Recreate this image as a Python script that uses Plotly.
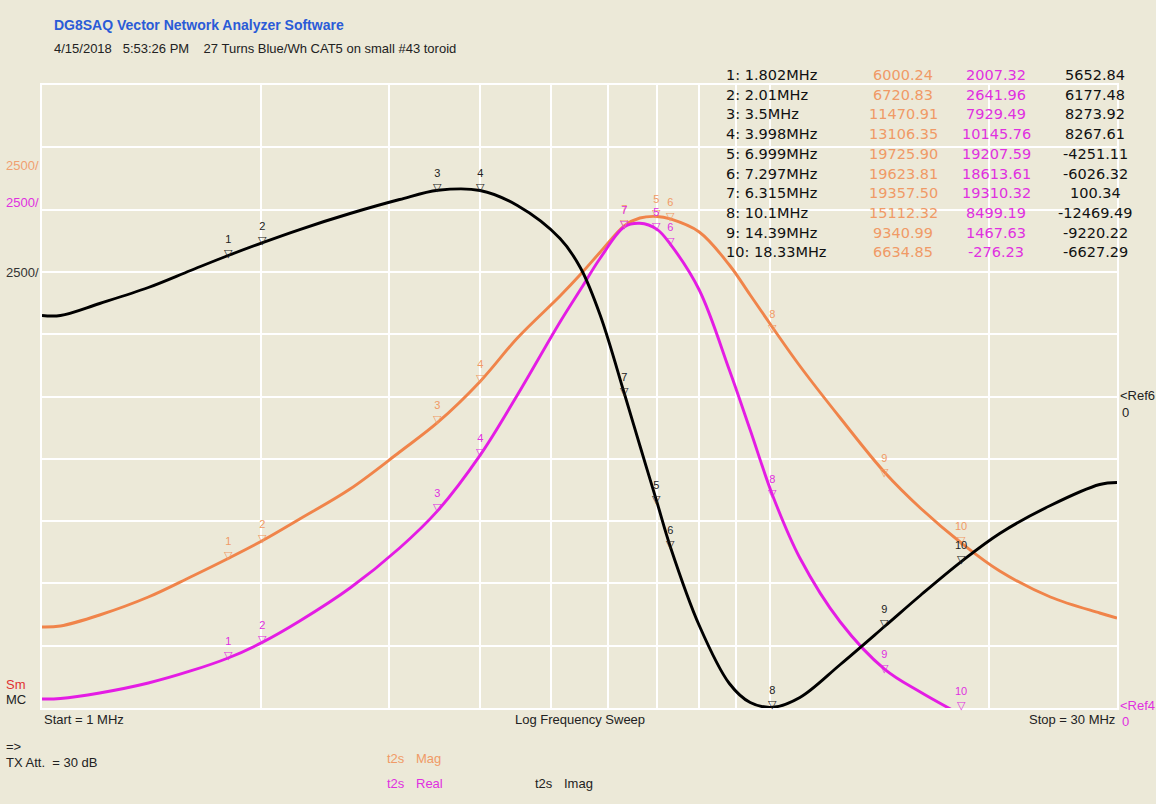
import math
import plotly.graph_objects as go

# ---------------- data ----------------
freq_mhz = [1.0, 1.06, 1.2, 1.4, 1.6, 1.802, 2.01, 2.26, 2.65, 3.1, 3.5, 4.0, 4.5,
            5.15, 5.5, 5.85, 6.315, 6.63, 7.0, 7.3, 8.0, 8.8, 9.4, 10.1, 11.0,
            12.5, 14.39, 16.1, 18.33, 20.7, 24.3, 28.4, 30.0]
mag = [3250, 3290, 3732, 4454, 5257, 6000, 6720, 7584, 8788, 10273, 11470, 13106,
       14847, 16533, 17416, 18298, 19357, 19663, 19725, 19623, 19101, 17777, 16573,
       15249, 13724, 11637, 9450, 8026, 6621, 5498, 4454, 3812, 3612]
real = [361, 381, 602, 1003, 1485, 2007, 2642, 3491, 4815, 6420, 7929, 10146, 12560,
        15490, 16814, 18058, 19310, 19450, 19208, 18614, 16774, 13563, 11156, 8499,
        6019, 3451, 1550, 642, -276, -1083, -2087, -2889, -3090]
imag = [3250, 3250, 3732, 4374, 5056, 5658, 6177, 6701, 7343, 7905, 8274, 8268, 7664,
        6340, 5136, 3250, 100, -1966, -4251, -6026, -9189, -11517, -12279, -12469,
        -12079, -10754, -9220, -7985, -6627, -5498, -4374, -3531, -3451]

mk_num = [1, 2, 3, 4, 5, 6, 7, 8, 9, 10]
mk_label = ["1.802MHz", "2.01MHz", "3.5MHz", "3.998MHz", "6.999MHz", "7.297MHz",
            "6.315MHz", "10.1MHz", "14.39MHz", "18.33MHz"]
mk_freq = [1.802, 2.01, 3.5, 3.998, 6.999, 7.297, 6.315, 10.1, 14.39, 18.33]
mk_mag = [6000.24, 6720.83, 11470.91, 13106.35, 19725.90, 19623.81, 19357.50,
          15112.32, 9340.99, 6634.85]
mk_real = [2007.32, 2641.96, 7929.49, 10145.76, 19207.59, 18613.61, 19310.32,
           8499.19, 1467.63, -276.23]
mk_imag = [5652.84, 6177.48, 8273.92, 8267.61, -4251.11, -6026.32, 100.34,
           -12469.49, -9220.22, -6627.29]

C_MAG = "#F0844A"
C_REAL = "#E41CE4"
C_IMAG = "#000000"
C_MAG_TXT = "#F09A66"
C_REAL_TXT = "#E030E0"
BG = "#ECE9D8"
FONT = "Liberation Sans"

W, H = 1156, 804
L, R, T, B = 42, 1117, 85, 708


def px(x):
    return (x - L) / (R - L)


def py(y):
    return (B - y) / (B - T)


fig = go.Figure()
fig.add_trace(go.Scatter(x=freq_mhz, y=mag, mode="lines", line=dict(color=C_MAG, width=2.9, shape="spline"),
                         hoverinfo="skip", showlegend=False))
fig.add_trace(go.Scatter(x=freq_mhz, y=real, mode="lines", line=dict(color=C_REAL, width=2.9, shape="spline"),
                         hoverinfo="skip", showlegend=False))
fig.add_trace(go.Scatter(x=freq_mhz, y=imag, mode="lines", line=dict(color=C_IMAG, width=2.9, shape="spline"),
                         yaxis="y2", hoverinfo="skip", showlegend=False))

ann = []


def marker_ann(f, v, n, color, yref):
    ann.append(dict(x=math.log10(f), y=v, xref="x", yref=yref,
                    text=f"<span style='font-family:Liberation Sans'>{n}</span><br>▽",
                    showarrow=False, yanchor="bottom", yshift=-5, borderpad=0,
                    font=dict(family="DejaVu Sans", size=11, color=color)))


for n, f, m, r, i in zip(mk_num, mk_freq, mk_mag, mk_real, mk_imag):
    marker_ann(f, m, n, C_MAG_TXT, "y")
    marker_ann(f, max(r, 0), n, C_REAL_TXT, "y")
    marker_ann(f, i, n, "#222222", "y2")

# marker table
TFONT = "DejaVu Sans"
row_y0, row_dy = 75, 19.7
for k, (n, lab, m, r, i) in enumerate(zip(mk_num, mk_label, mk_mag, mk_real, mk_imag)):
    yy = py(row_y0 + k * row_dy)
    ann.append(dict(x=px(724), y=yy, xref="paper", yref="paper", text=f"{n}: {lab}",
                    showarrow=False, xanchor="left", yanchor="middle",
                    font=dict(family=TFONT, size=14.5, color="#111111")))
    ann.append(dict(x=px(903), y=yy, xref="paper", yref="paper", text=f"{m:.2f}",
                    showarrow=False, xanchor="center", yanchor="middle",
                    font=dict(family=TFONT, size=14.5, color=C_MAG_TXT)))
    ann.append(dict(x=px(996), y=yy, xref="paper", yref="paper", text=f"{r:.2f}",
                    showarrow=False, xanchor="center", yanchor="middle",
                    font=dict(family=TFONT, size=14.5, color=C_REAL_TXT)))
    ann.append(dict(x=px(1095), y=yy, xref="paper", yref="paper", text=f"{i:.2f}",
                    showarrow=False, xanchor="center", yanchor="middle",
                    font=dict(family=TFONT, size=14.5, color="#111111")))


def label(x, y, text, color="#222222", size=13, xanchor="left", bold=False):
    ann.append(dict(x=px(x), y=py(y), xref="paper", yref="paper",
                    text=f"<b>{text}</b>" if bold else text, showarrow=False,
                    xanchor=xanchor, yanchor="middle",
                    font=dict(family=FONT, size=size, color=color)))


label(52, 25, "DG8SAQ Vector Network Analyzer Software", color="#2A5BD7", size=14, bold=True)
label(52, 48, "4/15/2018   5:53:26 PM    27 Turns Blue/Wh CAT5 on small #43 toroid", size=13)
label(4, 165, "2500/", color="#F0A070")
label(4, 202, "2500/", color="#E030E0")
label(4, 272, "2500/", color="#333333")
label(4, 684, "Sm", color="#E03030")
label(4, 699, "MC")
label(1118, 396, "&lt;Ref6")
label(1120, 412, "0")
label(1118, 705, "&lt;Ref4", color=C_REAL_TXT)
label(1120, 721, "0", color=C_REAL_TXT)
label(42, 719, "Start = 1 MHz")
label(580, 719, "Log Frequency Sweep", xanchor="center")
label(1117, 719, "Stop = 30 MHz", xanchor="right")
label(4, 746, "=&gt;")
label(4, 762, "TX Att.  = 30 dB")
label(385, 758, "t2s", color=C_MAG_TXT)
label(414, 758, "Mag", color=C_MAG_TXT)
label(385, 783, "t2s", color=C_REAL_TXT)
label(414, 783, "Real", color=C_REAL_TXT)
label(533, 783, "t2s")
label(562, 783, "Imag")

grid_vals = [2, 3, 4, 5, 6, 7, 8, 9, 10, 20]

fig.update_layout(
    width=W, height=H,
    margin=dict(l=L, r=W - R, t=T, b=H - B, pad=0),
    paper_bgcolor=BG, plot_bgcolor=BG,
    showlegend=False,
    annotations=ann,
    xaxis=dict(type="log", range=[0, math.log10(30)], tickvals=grid_vals,
               showticklabels=False, ticks="", showgrid=True, gridcolor="#FFFFFF", gridwidth=1.5,
               zeroline=False, showline=True, linecolor="#FFFFFF", linewidth=1.5, mirror=True,
               fixedrange=True),
    yaxis=dict(range=[0, 25000], dtick=2500, showticklabels=False, ticks="",
               showgrid=True, gridcolor="#FFFFFF", gridwidth=1.5, zeroline=False,
               showline=True, linecolor="#FFFFFF", linewidth=1.5, mirror=True, fixedrange=True),
    yaxis2=dict(range=[-12500, 12500], overlaying="y", showgrid=False, showticklabels=False,
                ticks="", zeroline=False, fixedrange=True),
)

fig.write_html("out.html")
